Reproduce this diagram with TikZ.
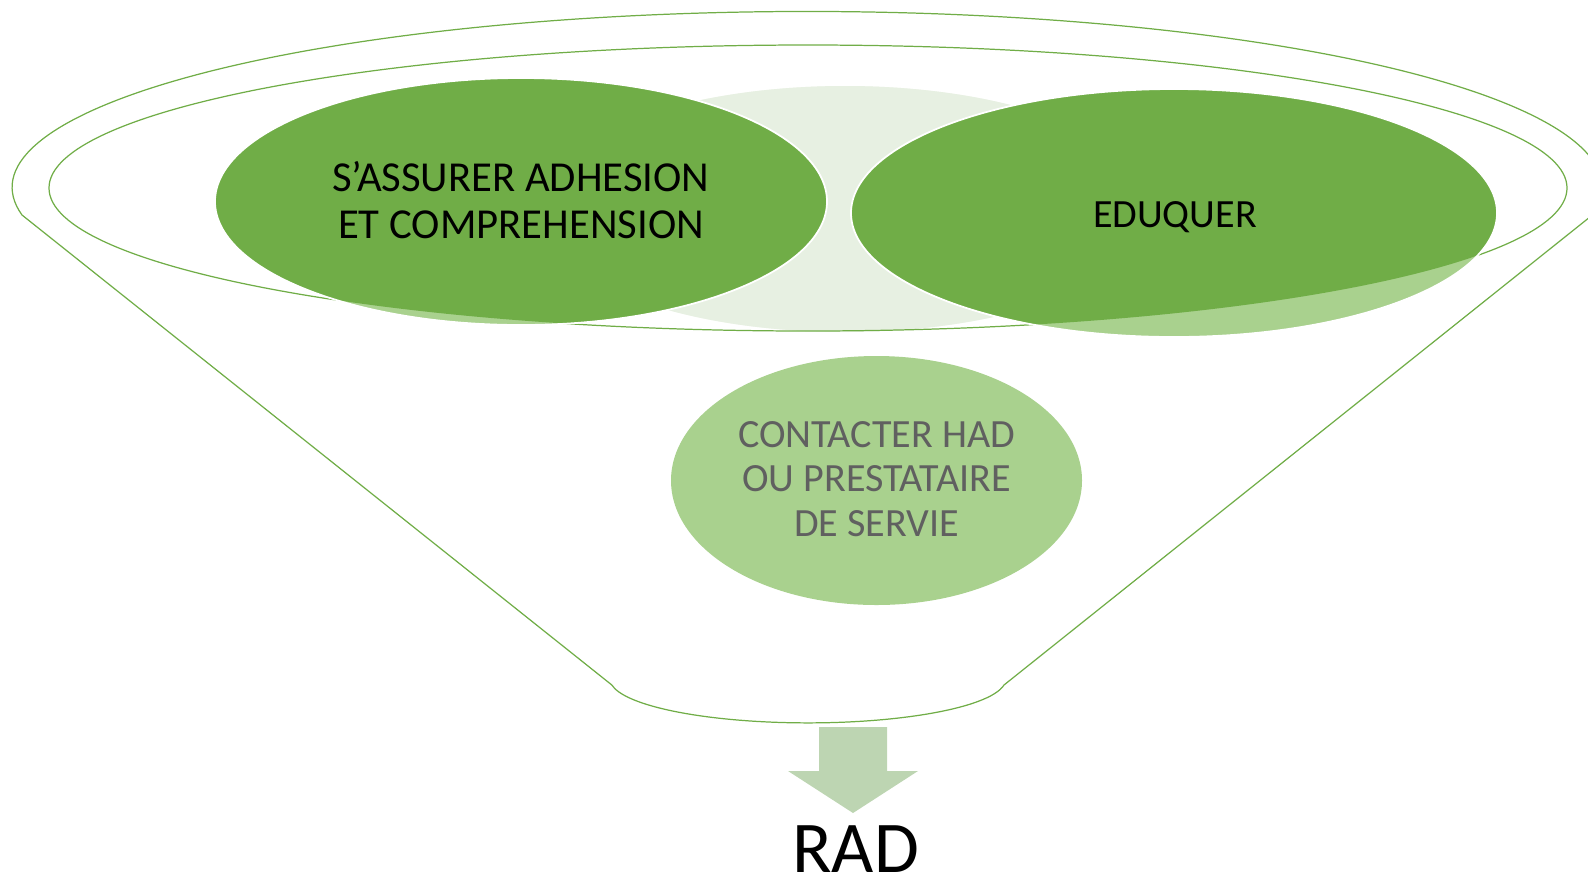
\documentclass[tikz,border=0pt]{standalone}
\usepackage{fontspec}
\setmainfont{Carlito}
\usepackage{tikz}

\definecolor{ballgreen}{HTML}{70AD47}
\definecolor{balllight}{HTML}{A9D18E}
\definecolor{ballpale}{HTML}{E7F0E2}
\definecolor{palelight}{HTML}{F1F6EE}
\definecolor{arrowgreen}{HTML}{BDD5B2}
\definecolor{labelgray}{HTML}{606060}

\begin{document}
\begin{tikzpicture}[x=0.02cm,y=-0.02cm,
  funnelline/.style={draw=ballgreen, line width=0.7pt},
  ballrim/.style={draw=white, line width=1pt},
  toplabel/.style={inner sep=0pt, align=center, font=\fontsize{24.3}{26.3}\selectfont},
  lowlabel/.style={inner sep=0pt, align=center, text=labelgray, font=\fontsize{22.8}{25.3}\selectfont}]
\useasboundingbox (0,0) rectangle (1588,877);

% Funnel outline
\draw[funnelline] (22,215) arc[start angle=171, end angle=369, x radius=795, y radius=176]
  -- (1004,685) arc[start angle=8, end angle=172, x radius=198, y radius=44] -- cycle;

% Pale ball at the back
\fill[palelight] (845,209) ellipse [x radius=310, y radius=123];
\begin{scope}
\clip (808,188) ellipse [x radius=759, y radius=143];
\fill[ballpale] (845,209) ellipse [x radius=310, y radius=123];
\end{scope}

% Rim of the funnel
\draw[funnelline] (808,188) ellipse [x radius=759, y radius=143];

% Two balls in the funnel, lighter where they stick out
\fill[balllight] (521,201.5) ellipse [x radius=306, y radius=123.5];
\fill[balllight] (1174,213) ellipse [x radius=323, y radius=124];
\begin{scope}
\clip (808,188) ellipse [x radius=759, y radius=143];
\fill[ballgreen] (521,201.5) ellipse [x radius=306, y radius=123.5];
\fill[ballgreen] (1174,213) ellipse [x radius=323, y radius=124];
\end{scope}
\draw[ballrim] (521,201.5) ellipse [x radius=306, y radius=123.5];
\draw[ballrim] (1174,213) ellipse [x radius=323, y radius=124];

% Ball falling through
\fill[balllight] (876.5,480.5) ellipse [x radius=205.5, y radius=124.5];

% Arrow out of the funnel
\fill[arrowgreen] (819,727) -- (887,727) -- (887,771) -- (918,771) -- (853,813)
  -- (788,771) -- (819,771) -- cycle;

% Labels
\node[toplabel] (assure) at (521,200) {S’ASSURER ADHESION\\ET COMPREHENSION};
\node[toplabel, anchor=base, font=\fontsize{22.8}{26}\selectfont] (eduquer) at (1175,227.5) {EDUQUER};
\node[lowlabel] (contact) at (876.5,479) {CONTACTER HAD\\OU PRESTATAIRE\\DE SERVIE};
\node[inner sep=0pt, anchor=base, font=\fontsize{41.5}{44}\selectfont] (rad) at (855.5,872) {RAD};

\end{tikzpicture}
\end{document}
